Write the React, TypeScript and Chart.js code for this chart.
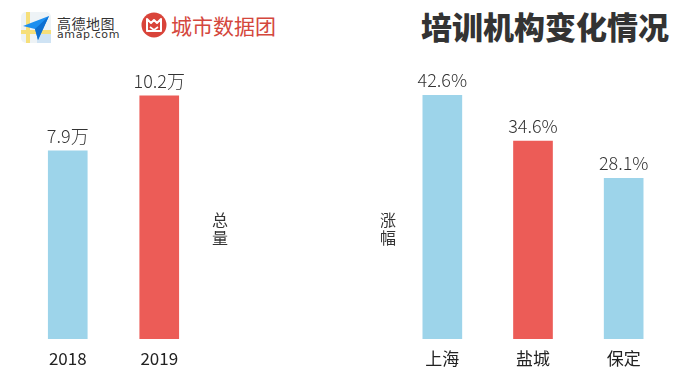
import React, { useEffect, useRef } from "react";
import { Chart, registerables } from "chart.js";

Chart.register(...registerables);

const totalCategories = ["2018", "2019"];
const totalValues = [7.9, 10.2];
const totalLabels = ["7.9万", "10.2万"];

const growthCategories = ["上海", "盐城", "保定"];
const growthValues = [42.6, 34.6, 28.1];
const growthLabels = ["42.6%", "34.6%", "28.1%"];

const BLUE = "#9dd4ea";
const RED = "#ec5c57";
const FONT = '"Noto Sans CJK SC", "Noto Sans", sans-serif';

const labelPlugin = {
  id: "barLabels",
  afterDatasetsDraw(chart: any, _args: any, opts: any) {
    const ctx = chart.ctx;
    const meta = chart.getDatasetMeta(0);
    const cats: string[] = chart.data.labels;
    ctx.save();
    ctx.textAlign = "center";
    meta.data.forEach((bar: any, i: number) => {
      ctx.fillStyle = "#333333";
      ctx.font = `300 18px ${FONT}`;
      ctx.textBaseline = "alphabetic";
      ctx.fillText(opts.valueLabels[i], bar.x, bar.y - 8);
      ctx.fillStyle = "#222222";
      ctx.font = `17px ${FONT}`;
      ctx.textBaseline = "middle";
      ctx.fillText(cats[i], bar.x, chart.chartArea.bottom + 20);
    });
    // vertical side label
    ctx.fillStyle = "#333333";
    ctx.font = `16px ${FONT}`;
    ctx.textBaseline = "middle";
    const chars = Array.from(opts.sideLabel as string);
    chars.forEach((c: string, i: number) => {
      ctx.fillText(c, opts.sideX, opts.sideY + i * 18);
    });
    ctx.restore();
  },
};

function BarChart(props: {
  categories: string[];
  values: number[];
  valueLabels: string[];
  colors: string[];
  max: number;
  padding: { left: number; right: number; top: number; bottom: number };
  sideLabel: string;
  sideX: number;
  sideY: number;
  left: number;
}) {
  const ref = useRef<HTMLCanvasElement>(null);
  useEffect(() => {
    if (!ref.current) return;
    const chart = new Chart(ref.current, {
      type: "bar",
      data: {
        labels: props.categories,
        datasets: [
          {
            data: props.values,
            backgroundColor: props.colors,
            borderWidth: 0,
            barThickness: 39,
          },
        ],
      },
      options: {
        animation: false,
        responsive: false,
        layout: { padding: props.padding },
        plugins: {
          legend: { display: false },
          tooltip: { enabled: false },
          barLabels: {
            valueLabels: props.valueLabels,
            sideLabel: props.sideLabel,
            sideX: props.sideX,
            sideY: props.sideY,
          },
        } as any,
        scales: {
          x: { display: false },
          y: { display: false, min: 0, max: props.max },
        },
      },
      plugins: [labelPlugin],
    });
    return () => chart.destroy();
  }, []);
  return (
    <canvas
      ref={ref}
      width={345}
      height={389}
      style={{ position: "absolute", left: props.left, top: 0, width: 345, height: 389 }}
    />
  );
}

export default function App() {
  useEffect(() => {
    document.body.style.margin = "0";
  }, []);
  return (
    <div
      style={{
        position: "absolute",
        left: 0,
        top: 0,
        width: 690,
        height: 389,
        background: "#ffffff",
        overflow: "hidden",
        fontFamily: FONT,
      }}
    >
      {/* amap logo */}
      <svg
        width={30}
        height={31}
        viewBox="0 0 30 31"
        style={{ position: "absolute", left: 21, top: 12 }}
      >
        <rect x={0} y={0} width={30} height={31} rx={5} fill="#eef3f6" />
        <rect x={5} y={0} width={4} height={31} fill="#f6df7a" />
        <rect x={0} y={18} width={30} height={4} fill="#f6df7a" />
        <rect x={16} y={22} width={14} height={9} fill="#cfe3f4" />
        <polygon points="2,14 28,4 17,28 14,17" fill="#1d8ff0" />
        <polygon points="14,17 28,4 17,28" fill="#0f6fd0" />
      </svg>
      <div
        style={{
          position: "absolute",
          left: 57,
          top: 14,
          fontSize: 14,
          lineHeight: "18px",
          color: "#333",
          letterSpacing: 0.5,
        }}
      >
        高德地图
      </div>
      <div
        style={{
          position: "absolute",
          left: 57,
          top: 29,
          fontSize: 11,
          lineHeight: "12px",
          color: "#333",
          letterSpacing: 0.6,
          fontFamily: '"DejaVu Sans", sans-serif',
        }}
      >
        amap.com
      </div>
      {/* city data logo */}
      <svg
        width={26}
        height={26}
        viewBox="0 0 26 26"
        style={{ position: "absolute", left: 141, top: 12 }}
      >
        <circle cx={13} cy={13} r={12.5} fill="#d9443a" />
        <path
          d="M6 7 L10 11 L13 8 L16 11 L20 7 L20 19 L6 19 Z"
          fill="none"
          stroke="#ffffff"
          strokeWidth={2}
          strokeLinejoin="round"
        />
        <path d="M9 15 L13 18 L17 15" fill="none" stroke="#ffffff" strokeWidth={1.6} />
      </svg>
      <div
        style={{
          position: "absolute",
          left: 171,
          top: 11,
          fontSize: 21,
          lineHeight: "28px",
          color: "#d4473d",
        }}
      >
        城市数据团
      </div>
      {/* title */}
      <div
        style={{
          position: "absolute",
          left: 421,
          top: 6,
          fontSize: 31,
          lineHeight: "40px",
          fontWeight: 900,
          color: "#333333",
          whiteSpace: "nowrap",
        }}
      >
        培训机构变化情况
      </div>
      <BarChart
        categories={totalCategories}
        values={totalValues}
        valueLabels={totalLabels}
        colors={[BLUE, RED]}
        max={12}
        padding={{ left: 22, right: 140, top: 53, bottom: 50 }}
        sideLabel="总量"
        sideX={220}
        sideY={220}
        left={0}
      />
      <BarChart
        categories={growthCategories}
        values={growthValues}
        valueLabels={growthLabels}
        colors={[BLUE, RED, BLUE]}
        max={50}
        padding={{ left: 52, right: 21, top: 53, bottom: 50 }}
        sideLabel="涨幅"
        sideX={43}
        sideY={220}
        left={345}
      />
    </div>
  );
}
